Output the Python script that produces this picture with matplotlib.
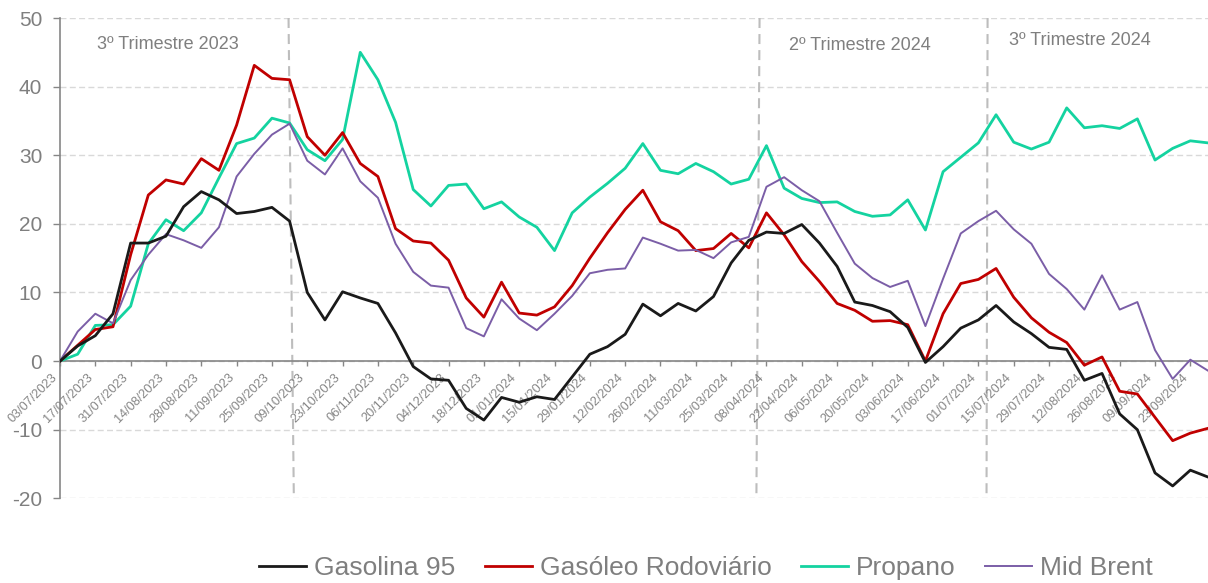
import matplotlib
matplotlib.use("Agg")
import matplotlib.pyplot as plt

plt.rcParams['font.family'] = ['Liberation Sans', 'DejaVu Sans']
plt.rcParams['axes.unicode_minus'] = False

# weekly values, 03/07/2023 -> 30/09/2024
gasolina = [0, 2.2, 3.7, 6.9, 17.2, 17.2, 18.2, 22.5, 24.7, 23.5,
            21.5, 21.8, 22.4, 20.4, 10.0, 6.0, 10.1, 9.2, 8.4, 4.1,
            -0.8, -2.6, -2.8, -6.9, -8.6, -5.3, -6.0, -5.2, -5.6, -2.3,
            1.0, 2.1, 3.9, 8.3, 6.6, 8.4, 7.3, 9.4, 14.3, 17.6,
            18.8, 18.6, 19.9, 17.2, 13.8, 8.6, 8.1, 7.2, 4.9, -0.2,
            2.1, 4.8, 6.0, 8.1, 5.7, 4.0, 2.0, 1.7, -2.8, -1.8,
            -7.7, -10.0, -16.3, -18.2, -15.9, -16.9]
gasoleo = [0, 2.3, 4.6, 5.0, 15.5, 24.2, 26.4, 25.8, 29.5, 27.8,
           34.4, 43.1, 41.2, 41.0, 32.7, 30.0, 33.3, 28.8, 26.9, 19.3,
           17.5, 17.2, 14.7, 9.2, 6.4, 11.5, 7.0, 6.7, 7.9, 11.0,
           15.0, 18.7, 22.1, 24.9, 20.3, 19.0, 16.1, 16.4, 18.6, 16.5,
           21.6, 18.4, 14.5, 11.6, 8.4, 7.4, 5.8, 5.9, 5.3, 0.0,
           6.9, 11.3, 11.9, 13.5, 9.3, 6.3, 4.2, 2.7, -0.6, 0.6,
           -4.4, -4.8, -8.2, -11.6, -10.5, -9.8]
propano = [0, 1.0, 5.2, 5.3, 8.0, 17.1, 20.6, 19.0, 21.6, 26.7,
           31.7, 32.5, 35.4, 34.7, 30.8, 29.2, 32.3, 45.0, 41.0, 34.8,
           25.0, 22.6, 25.6, 25.8, 22.2, 23.2, 21.0, 19.5, 16.1, 21.6,
           23.9, 25.9, 28.1, 31.7, 27.8, 27.3, 28.8, 27.6, 25.8, 26.5,
           31.4, 25.2, 23.7, 23.1, 23.2, 21.8, 21.1, 21.3, 23.5, 19.1,
           27.6, 29.7, 31.8, 35.9, 31.9, 30.9, 31.9, 36.9, 34.0, 34.3,
           33.9, 35.3, 29.3, 31.0, 32.1, 31.8]
brent = [0, 4.3, 6.9, 5.5, 11.8, 15.5, 18.5, 17.6, 16.5, 19.5,
         26.9, 30.2, 33.0, 34.6, 29.2, 27.2, 31.0, 26.2, 23.8, 17.1,
         13.0, 11.0, 10.7, 4.8, 3.6, 9.0, 6.2, 4.5, 6.9, 9.5,
         12.8, 13.3, 13.5, 18.0, 17.1, 16.1, 16.2, 15.0, 17.3, 18.1,
         25.4, 26.8, 24.9, 23.3, 18.7, 14.2, 12.1, 10.8, 11.7, 5.1,
         12.0, 18.6, 20.4, 21.9, 19.2, 17.1, 12.7, 10.5, 7.5, 12.5,
         7.5, 8.6, 1.6, -2.6, 0.2, -1.4]

tick_labels = ['03/07/2023', '17/07/2023', '31/07/2023', '14/08/2023', '28/08/2023',
               '11/09/2023', '25/09/2023', '09/10/2023', '23/10/2023', '06/11/2023',
               '20/11/2023', '04/12/2023', '18/12/2023', '01/01/2024', '15/01/2024',
               '29/01/2024', '12/02/2024', '26/02/2024', '11/03/2024', '25/03/2024',
               '08/04/2024', '22/04/2024', '06/05/2024', '20/05/2024', '03/06/2024',
               '17/06/2024', '01/07/2024', '15/07/2024', '29/07/2024', '12/08/2024',
               '26/08/2024', '09/09/2024', '23/09/2024']

# quarter separators (week index at top / bottom) and their labels
sep_top = [12.94, 39.61, 52.52]
sep_bottom = [13.24, 39.43, 52.46]
quarters = ['3º Trimestre 2023', '2º Trimestre 2024', '3º Trimestre 2024']
quarter_x = [2.1, 41.3, 53.75]
quarter_y = [46.1, 46.0, 46.7]

grey = '#7f7f7f'
weeks = list(range(len(gasolina)))

fig = plt.figure(figsize=(12.08, 5.83), dpi=100)
ax = fig.add_axes([60 / 1208, 1 - 498.3 / 583, 1 - 60 / 1208, (498.3 - 18) / 583])

# axis crosses at zero (set before the tick labels, it resets the ticks)
ax.spines['top'].set_visible(False)
ax.spines['right'].set_visible(False)
ax.spines['bottom'].set_position(('data', 0))
for sp in ('left', 'bottom'):
    ax.spines[sp].set_color('#868686')
    ax.spines[sp].set_linewidth(1.2)

for yv in range(-20, 60, 10):
    ax.axhline(yv, color='#d9d9d9', lw=1.0, ls=(0, (4.3, 2.4)), zorder=0)

for t, b in zip(sep_top, sep_bottom):
    ax.plot([t, b], [50, -20], color='#bdbdbd', lw=1.5, ls=(0, (4.8, 2.9)), zorder=1)

for x, y, s in zip(quarter_x, quarter_y, quarters):
    ax.text(x, y, s, fontsize=13, color=grey, ha='left', va='center')

ax.plot(weeks, gasolina, color='#1a1a1a', lw=2.0, label='Gasolina 95', zorder=5)
ax.plot(weeks, gasoleo, color='#c00000', lw=2.0, label='Gasóleo Rodoviário', zorder=4)
ax.plot(weeks, propano, color='#14d3a0', lw=2.0, label='Propano', zorder=3)
ax.plot(weeks, brent, color='#7b5ea7', lw=1.4, label='Mid Brent', zorder=4)

ax.set_xlim(0, 65)
ax.set_ylim(-20, 50)
ax.set_yticks(range(-20, 60, 10))
ax.set_xticks(range(0, 66, 2))
ax.set_xticklabels(tick_labels)
ax.tick_params(axis='y', length=4.8, width=1.0, color='#868686', labelsize=15,
               labelcolor=grey, pad=8)
ax.tick_params(axis='x', length=3.4, width=1.0, color='#868686', pad=4,
               labelsize=9.2, labelcolor='#858585', labelrotation=45)
plt.setp(ax.get_xticklabels(), ha='right', rotation_mode='default')

fig.legend(loc='center', bbox_to_anchor=(706 / 1208, 15 / 583), ncol=4, frameon=False,
           fontsize=19, labelcolor=grey, handlelength=1.8, handletextpad=0.3,
           columnspacing=1.1)

fig.savefig('out.png', dpi=100)
